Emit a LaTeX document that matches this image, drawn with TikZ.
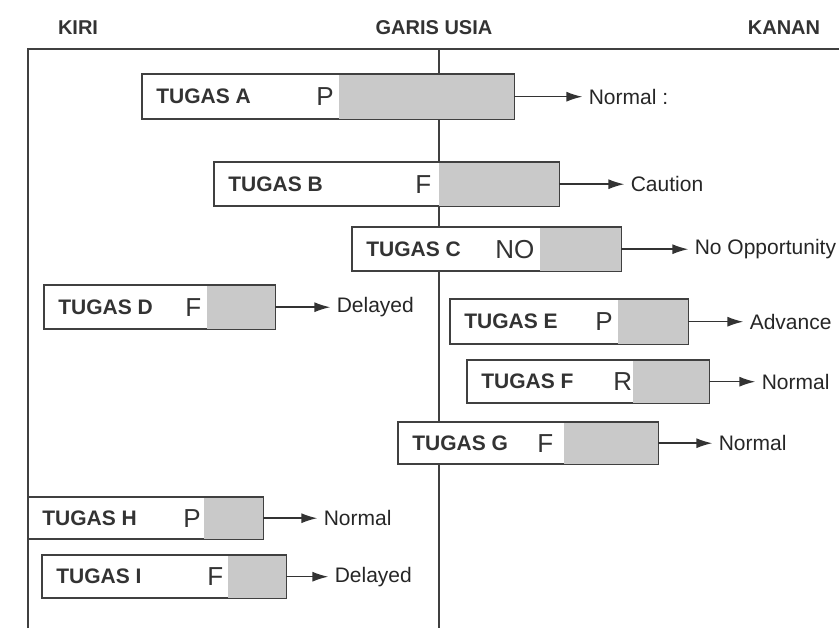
\documentclass[tikz,border=0pt]{standalone}
\usepackage{fontspec}
\setmainfont{Liberation Sans}
\usetikzlibrary{arrows.meta,calc}

\begin{document}
\begin{tikzpicture}[x=0.5pt, y=-0.5pt,
  garis/.style={draw=black!75, line width=0.7pt},
  kotak/.style={draw=black!75, line width=0.7pt, fill=white, inner sep=0pt},
  arsir/.style={fill=black!21},
  judul/.style={font=\bfseries\fontsize{10}{12}\selectfont, text=black!80},
  nama/.style={font=\bfseries\fontsize{10.5}{12}\selectfont, text=black!80, anchor=west, inner sep=0pt},
  kode/.style={font=\fontsize{13}{15}\selectfont, text=black!80, anchor=west, inner sep=0pt},
  hasil/.style={font=\fontsize{10.5}{12}\selectfont, text=black!85, anchor=west, inner xsep=3pt},
  panah/.style={draw=black!80, line width=0.75pt, -{Latex[length=8pt,width=5pt]}}]

\useasboundingbox (0,0) rectangle (839,628);

% judul kolom
\node[judul] (kiri) at (78,28) {KIRI};
\node[judul] (usia) at (434,28) {GARIS USIA};
\node[judul] (kanan) at (784,28) {KANAN};

% bingkai dan garis usia
\draw[garis] (28,628) |- (839,49);
\draw[garis] (439,49) -- (439,628);

% tugas: nama/x1/y1/x2/y2/arsir/kode/posisi kode/jarak hasil/hasil
\foreach \nm/\xa/\ya/\xb/\yb/\ds/\kd/\dk/\dh/\hs in {
  A/142/74/513/118/197/P/174/74/{Normal :},
  B/214/162/558/205/225/F/201/71/Caution,
  C/352/227/620/270/188/NO/143/73/No Opportunity,
  D/44/285/274/328/163/F/141/61/Delayed,
  E/450/299/687/343/168/P/145/61/Advance,
  F/467/360/708/402/166/R/146/52/Normal,
  G/398/422/657/463/166/F/139/60/Normal,
  H/28/497/262/538/176/P/155/60/Normal,
  I/42/555/285/597/186/F/165/48/Delayed}{
  \node[kotak, anchor=north west, minimum width={(\xb-\xa)*0.5pt},
    minimum height={(\yb-\ya)*0.5pt}] (tugas\nm) at (\xa,\ya) {};
  \fill[arsir] ($(tugas\nm.north west)+(\ds,0)$) rectangle (tugas\nm.south east);
  \draw[garis] (tugas\nm.north west) rectangle (tugas\nm.south east);
  \node[nama] (nama\nm) at ($(tugas\nm.west)+(14,0)$) {TUGAS \nm};
  \node[kode] (kode\nm) at ($(tugas\nm.west)+(\dk,0)$) {\kd};
  \node[hasil] (hasil\nm) at ($(tugas\nm.east)+(\dh-6,0)$) {\hs};
  \draw[panah] (tugas\nm) -- (hasil\nm);
}
\end{tikzpicture}
\end{document}
